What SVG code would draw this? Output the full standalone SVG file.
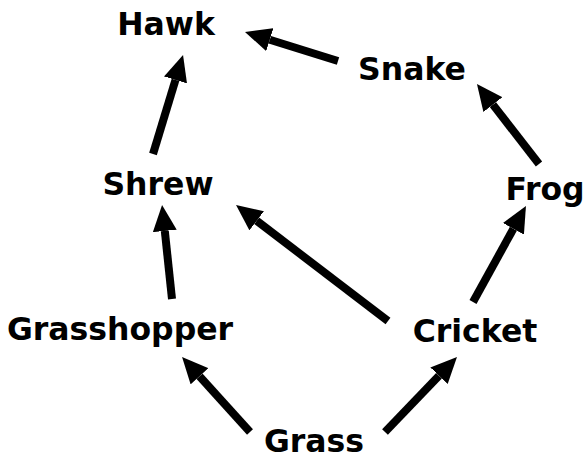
<svg xmlns="http://www.w3.org/2000/svg" width="587" height="458" viewBox="0 0 587 458">
  <style>
    .label { font-family: "DejaVu Sans", Verdana, sans-serif; font-weight: bold; font-size: 31.5px; fill: #000; text-anchor: middle; }
    .edge { stroke: #000; stroke-width: 8; fill: none; marker-end: url(#head); }
  </style>
  <defs>
    <marker id="head" markerUnits="userSpaceOnUse" markerWidth="26" markerHeight="24" viewBox="0 0 26 24" refX="0" refY="12" orient="auto">
      <path d="M0,0 L26,12 L0,24 z" fill="#000"/>
    </marker>
  </defs>
  <rect width="587" height="458" fill="#fff"/>
  <g id="connectors">
    <line class="edge" x1="338" y1="61" x2="269.8" y2="39.7"/>
    <line class="edge" x1="153" y1="154" x2="175.5" y2="79.9"/>
    <line class="edge" x1="172" y1="299" x2="164.8" y2="230.9"/>
    <line class="edge" x1="388" y1="321" x2="256.7" y2="220.8"/>
    <line class="edge" x1="473" y1="302" x2="513.4" y2="228.8"/>
    <line class="edge" x1="539" y1="164" x2="492.9" y2="104.6"/>
    <line class="edge" x1="250" y1="432" x2="199.5" y2="376.3"/>
    <line class="edge" x1="385" y1="432" x2="439" y2="375.7"/>
  </g>
  <g id="hawk"><text class="label" x="166" y="35">Hawk</text></g>
  <g id="snake"><text class="label" x="412" y="80">Snake</text></g>
  <g id="shrew"><text class="label" x="158" y="195">Shrew</text></g>
  <g id="frog"><text class="label" x="545" y="200">Frog</text></g>
  <g id="grasshopper"><text class="label" x="120" y="340">Grasshopper</text></g>
  <g id="cricket"><text class="label" x="475" y="342">Cricket</text></g>
  <g id="grass"><text class="label" x="314" y="452">Grass</text></g>
</svg>
